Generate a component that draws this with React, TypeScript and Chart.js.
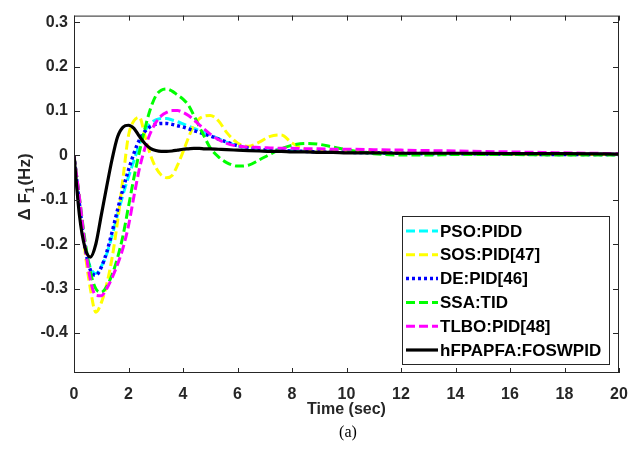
import React, { useEffect, useRef } from "react";
import { Chart, registerables } from "chart.js";

Chart.register(...registerables);

const time = [0, 0.2, 0.4, 0.6, 0.8, 1.0, 1.2, 1.4, 1.6, 1.8, 2.0, 2.2, 2.4, 2.6, 2.8, 3.0, 3.2, 3.4, 3.6, 3.8, 4.0, 4.2, 4.4, 4.6, 4.8, 5.0, 5.3, 5.6, 6.0, 6.4, 6.8, 7.2, 7.6, 8.0, 8.5, 9, 9.5, 10, 11, 12, 13, 14, 16, 18, 20];

const psoPidd = [0, -0.105, -0.2, -0.252, -0.266, -0.25, -0.222, -0.18, -0.133, -0.088, -0.048, -0.012, 0.025, 0.055, 0.072, 0.08, 0.083, 0.083, 0.08, 0.076, 0.071, 0.066, 0.061, 0.056, 0.051, 0.046, 0.038, 0.03, 0.022, 0.017, 0.014, 0.013, 0.012, 0.011, 0.01, 0.009, 0.008, 0.007, 0.006, 0.005, 0.004, 0.004, 0.003, 0.003, 0.002];

const sosPid = [0, -0.1, -0.215, -0.3, -0.353, -0.332, -0.29, -0.23, -0.148, -0.05, 0.045, 0.078, 0.086, 0.045, 0.002, -0.027, -0.044, -0.05, -0.045, -0.022, 0.008, 0.04, 0.068, 0.083, 0.089, 0.09, 0.078, 0.052, 0.028, 0.021, 0.03, 0.043, 0.046, 0.028, 0.014, 0.01, 0.01, 0.011, 0.009, 0.006, 0.005, 0.004, 0.003, 0.002, 0.002];

const dePid = [0, -0.11, -0.205, -0.258, -0.27, -0.252, -0.218, -0.172, -0.122, -0.075, -0.033, 0.005, 0.035, 0.054, 0.065, 0.07, 0.072, 0.072, 0.07, 0.067, 0.064, 0.06, 0.056, 0.052, 0.048, 0.044, 0.037, 0.03, 0.022, 0.017, 0.014, 0.012, 0.011, 0.01, 0.009, 0.008, 0.007, 0.007, 0.006, 0.005, 0.004, 0.004, 0.003, 0.002, 0.002];

const ssaTid = [0, -0.095, -0.19, -0.262, -0.3, -0.308, -0.295, -0.268, -0.23, -0.18, -0.115, -0.05, 0.008, 0.06, 0.104, 0.134, 0.147, 0.15, 0.145, 0.136, 0.127, 0.113, 0.09, 0.065, 0.04, 0.017, -0.003, -0.016, -0.024, -0.022, -0.01, 0.003, 0.015, 0.023, 0.027, 0.025, 0.019, 0.013, 0.004, 0.001, 0.001, 0.002, 0.002, 0.001, 0.001];

const tlboPid = [0, -0.095, -0.2, -0.28, -0.315, -0.316, -0.3, -0.275, -0.245, -0.208, -0.158, -0.092, -0.03, 0.016, 0.05, 0.074, 0.089, 0.097, 0.101, 0.101, 0.097, 0.09, 0.08, 0.069, 0.058, 0.048, 0.036, 0.027, 0.021, 0.019, 0.018, 0.017, 0.016, 0.016, 0.015, 0.015, 0.014, 0.014, 0.013, 0.012, 0.011, 0.01, 0.008, 0.006, 0.004];

const hfpapfa = [0, -0.135, -0.207, -0.229, -0.2, -0.135, -0.07, -0.008, 0.042, 0.064, 0.068, 0.061, 0.043, 0.027, 0.016, 0.011, 0.009, 0.009, 0.01, 0.012, 0.014, 0.015, 0.016, 0.016, 0.015, 0.015, 0.014, 0.013, 0.012, 0.011, 0.01, 0.009, 0.009, 0.008, 0.008, 0.007, 0.007, 0.006, 0.006, 0.005, 0.005, 0.005, 0.004, 0.004, 0.003];

const seriesLabels = ["PSO:PIDD", "SOS:PID[47]", "DE:PID[46]", "SSA:TID", "TLBO:PID[48]", "hFPAPFA:FOSWPID"];
const seriesColors = ["#00FFFF", "#FFFF00", "#0000FF", "#00FF00", "#FF00FF", "#000000"];
const seriesDashes: number[][] = [[9, 4], [9, 4], [3, 3], [9, 4], [9, 4], []];
const seriesWidths = [3, 3, 3.5, 3, 3, 3.2];
const seriesOrder = [5, 4, 3, 2, 1, 0];
const seriesValues = [psoPidd, sosPid, dePid, ssaTid, tlboPid, hfpapfa];

const xTicks = [0, 2, 4, 6, 8, 10, 12, 14, 16, 18, 20];
const yTicks = [-0.4, -0.3, -0.2, -0.1, 0, 0.1, 0.2, 0.3];

const FONT = "'Liberation Sans', Arial, sans-serif";
const AXIS_COLOR = "#262626";

const decorPlugin = {
  id: "decor",
  afterDraw(chart: any) {
    const ctx = chart.ctx;
    const { left, right, top, bottom } = chart.chartArea;
    const xs = chart.scales.x;
    const ys = chart.scales.y;
    ctx.save();
    ctx.strokeStyle = AXIS_COLOR;
    ctx.lineWidth = 1;
    ctx.strokeRect(left + 0.5, top + 0.5, right - left - 1, bottom - top - 1);
    ctx.beginPath();
    xTicks.forEach((v) => {
      const px = Math.round(xs.getPixelForValue(v)) + 0.5;
      ctx.moveTo(px, bottom);
      ctx.lineTo(px, bottom - 5);
      ctx.moveTo(px, top);
      ctx.lineTo(px, top + 5);
    });
    yTicks.forEach((v) => {
      const py = Math.round(ys.getPixelForValue(v)) + 0.5;
      ctx.moveTo(left, py);
      ctx.lineTo(left + 6, py);
      ctx.moveTo(right, py);
      ctx.lineTo(right - 6, py);
    });
    ctx.stroke();

    // legend
    const lx = 402, ly = 216, lw = 207, lh = 148;
    ctx.fillStyle = "#ffffff";
    ctx.fillRect(lx, ly, lw, lh);
    ctx.strokeStyle = AXIS_COLOR;
    ctx.lineWidth = 1;
    ctx.strokeRect(lx + 0.5, ly + 0.5, lw, lh);
    ctx.font = `bold 17px ${FONT}`;
    ctx.textBaseline = "middle";
    ctx.textAlign = "left";
    seriesLabels.forEach((lab, i) => {
      const yy = ly + 15 + i * 23.8;
      ctx.beginPath();
      ctx.setLineDash(seriesDashes[i]);
      ctx.strokeStyle = seriesColors[i];
      ctx.lineWidth = seriesWidths[i];
      ctx.moveTo(lx + 4, yy);
      ctx.lineTo(lx + 36, yy);
      ctx.stroke();
      ctx.setLineDash([]);
      ctx.fillStyle = "#000000";
      ctx.fillText(lab, lx + 38, yy + 1);
    });

    // x title
    ctx.fillStyle = AXIS_COLOR;
    ctx.font = `bold 16px ${FONT}`;
    ctx.textAlign = "center";
    ctx.textBaseline = "middle";
    ctx.fillText("Time (sec)", (left + right) / 2, 410);

    // caption
    ctx.fillStyle = "#000000";
    ctx.font = `16px 'Liberation Serif', 'Times New Roman', serif`;
    ctx.fillText("(a)", 348, 433);

    // y title with subscript
    ctx.save();
    ctx.translate(25, 187);
    ctx.rotate(-Math.PI / 2);
    ctx.fillStyle = AXIS_COLOR;
    ctx.textBaseline = "middle";
    ctx.textAlign = "left";
    const p1 = "\u0394 F";
    const p2 = "1";
    const p3 = "(Hz)";
    ctx.font = `bold 17px ${FONT}`;
    const w1 = ctx.measureText(p1).width;
    const w3 = ctx.measureText(p3).width;
    ctx.font = `bold 12px ${FONT}`;
    const w2 = ctx.measureText(p2).width;
    const total = w1 + w2 + 1 + w3;
    let x0 = -total / 2;
    ctx.font = `bold 17px ${FONT}`;
    ctx.fillText(p1, x0, 0);
    x0 += w1;
    ctx.font = `bold 12px ${FONT}`;
    ctx.fillText(p2, x0, 6);
    x0 += w2 + 1;
    ctx.font = `bold 17px ${FONT}`;
    ctx.fillText(p3, x0, 0);
    ctx.restore();

    ctx.restore();
  },
};

export default function App() {
  const canvasRef = useRef<HTMLCanvasElement | null>(null);

  useEffect(() => {
    const canvas = canvasRef.current;
    if (!canvas) return;
    const datasets = seriesLabels.map((label, i) => ({
      label,
      data: time.map((t, k) => ({ x: t, y: seriesValues[i][k] })),
      borderColor: seriesColors[i],
      backgroundColor: seriesColors[i],
      borderWidth: seriesWidths[i],
      borderDash: seriesDashes[i],
      pointRadius: 0,
      fill: false,
      cubicInterpolationMode: "monotone" as const,
      order: seriesOrder[i],
    }));
    const chart = new Chart(canvas, {
      type: "line",
      data: { datasets },
      options: {
        animation: false,
        responsive: false,
        devicePixelRatio: 1,
        layout: { padding: { left: 0, top: 12, right: 24, bottom: 0 } },
        plugins: {
          legend: { display: false },
          tooltip: { enabled: false },
        },
        scales: {
          x: {
            type: "linear",
            min: 0,
            max: 20,
            afterBuildTicks: (scale: any) => {
              scale.ticks = xTicks.map((v) => ({ value: v }));
            },
            afterFit: (scale: any) => {
              scale.height = 76;
            },
            grid: { display: false, drawTicks: false },
            border: { display: false },
            ticks: {
              padding: 12,
              maxRotation: 0,
              autoSkip: false,
              color: AXIS_COLOR,
              font: { family: FONT, size: 16, weight: "bold" },
              callback: (v: any) => String(v),
            },
          },
          y: {
            type: "linear",
            min: -0.49,
            max: 0.315,
            afterBuildTicks: (scale: any) => {
              scale.ticks = yTicks.map((v) => ({ value: v }));
            },
            afterFit: (scale: any) => {
              scale.width = 74;
            },
            grid: { display: false, drawTicks: false },
            border: { display: false },
            ticks: {
              padding: 6,
              autoSkip: false,
              color: AXIS_COLOR,
              font: { family: FONT, size: 16, weight: "bold" },
              callback: (v: any) => String(Number(Number(v).toFixed(1))),
            },
          },
        },
      },
      plugins: [decorPlugin],
    });
    return () => chart.destroy();
  }, []);

  return (
    <div style={{ position: "fixed", left: 0, top: 0, width: 643, height: 449, background: "#fff" }}>
      <canvas ref={canvasRef} width={643} height={449} style={{ display: "block", width: 643, height: 449 }} />
    </div>
  );
}
